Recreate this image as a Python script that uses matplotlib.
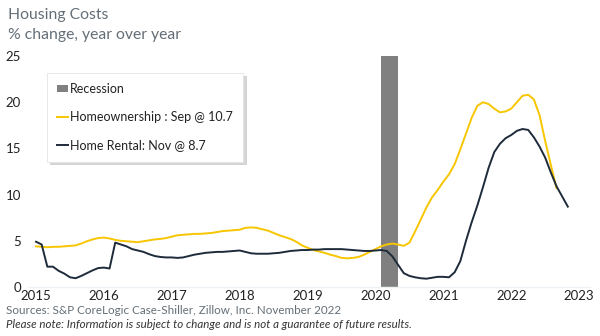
import numpy as np
import matplotlib
matplotlib.use("Agg")
import matplotlib.pyplot as plt
from matplotlib.patches import Patch
from matplotlib.lines import Line2D

plt.rcParams["font.family"] = ["Lato", "DejaVu Sans"]

# Monthly year-over-year % change, starting January 2015
start_year = 2015
homeownership = [
    4.4, 4.35, 4.3, 4.35, 4.35, 4.4, 4.45, 4.5, 4.7, 4.95, 5.15, 5.3,      # 2015
    5.35, 5.25, 5.1, 5.0, 4.95, 4.9, 4.85, 4.95, 5.05, 5.15, 5.2, 5.3,     # 2016
    5.45, 5.6, 5.65, 5.7, 5.75, 5.75, 5.8, 5.85, 5.95, 6.05, 6.1, 6.15,    # 2017
    6.2, 6.4, 6.45, 6.4, 6.25, 6.1, 5.85, 5.6, 5.4, 5.2, 4.9, 4.5,         # 2018
    4.25, 4.0, 3.85, 3.7, 3.5, 3.35, 3.15, 3.1, 3.15, 3.25, 3.5, 3.8,      # 2019
    4.1, 4.4, 4.6, 4.7, 4.6, 4.45, 4.8, 6.0, 7.3, 8.6, 9.7, 10.5,          # 2020
    11.4, 12.2, 13.3, 14.9, 16.6, 18.3, 19.6, 20.0, 19.8, 19.3, 18.9, 19.0,  # 2021
    19.3, 20.0, 20.7, 20.8, 20.3, 18.6, 15.8, 13.2, 10.7,                  # 2022 (to Sep)
]
home_rental = [
    4.9, 4.6, 2.2, 2.2, 1.75, 1.45, 1.05, 0.95, 1.2, 1.5, 1.8, 2.05,       # 2015
    2.1, 2.0, 4.8, 4.6, 4.4, 4.1, 3.95, 3.8, 3.55, 3.35, 3.25, 3.2,        # 2016
    3.2, 3.15, 3.2, 3.35, 3.5, 3.6, 3.7, 3.75, 3.8, 3.8, 3.85, 3.9,        # 2017
    3.95, 3.8, 3.65, 3.6, 3.6, 3.6, 3.65, 3.7, 3.8, 3.9, 3.95, 4.0,        # 2018
    4.0, 4.05, 4.05, 4.1, 4.1, 4.1, 4.1, 4.05, 4.0, 3.95, 3.9, 3.9,        # 2019
    3.95, 4.0, 3.9, 3.3, 2.4, 1.5, 1.2, 1.05, 0.95, 0.9, 1.0, 1.1,         # 2020
    1.1, 1.05, 1.6, 2.8, 5.0, 7.0, 8.8, 10.8, 12.9, 14.6, 15.5, 16.1,      # 2021
    16.45, 16.9, 17.1, 17.0, 16.2, 15.2, 14.0, 12.4, 10.9, 9.8, 8.7,       # 2022 (to Nov)
]
recession = (2020 + 1 / 12, 2020 + 4 / 12)   # Feb - Apr 2020
x_ticks = list(range(2015, 2024))
y_ticks = [0, 5, 10, 15, 20, 25]

labels = {
    "recession": "Recession",
    "own": "Homeownership : Sep @ 10.7",
    "rent": "Home Rental: Nov @ 8.7",
}

GOLD = "#F7C600"
NAVY = "#1E2B3A"
GREY_BAR = "#808080"
TEXT = "#222222"
MUTED = "#646E77"

x_own = start_year + np.arange(len(homeownership)) / 12
x_rent = start_year + np.arange(len(home_rental)) / 12

fig = plt.figure(figsize=(6.0, 3.36), dpi=100)
W, H = 600, 336
left_px, right_px, bottom_px, top_px = 28, 590, 287, 56
ax = fig.add_axes([left_px / W, (H - bottom_px) / H,
                   (right_px - left_px) / W, (bottom_px - top_px) / H])

ax.axvspan(recession[0], recession[1], color=GREY_BAR, lw=0, zorder=1)
ax.plot(x_own, homeownership, color=GOLD, lw=1.4, zorder=3)
ax.plot(x_rent, home_rental, color=NAVY, lw=1.4, zorder=4)

ax.set_xlim(2014.882, 2023.16)
ax.set_ylim(0, 25)
ax.set_xticks(x_ticks)
ax.set_yticks(y_ticks)
ax.tick_params(axis="both", length=0, labelsize=9.5, labelcolor=TEXT)
ax.tick_params(axis="x", pad=2)
ax.tick_params(axis="y", pad=5)
for s in ("top", "right", "left"):
    ax.spines[s].set_visible(False)
ax.spines["bottom"].set_color("#EEF2F5")
ax.spines["bottom"].set_linewidth(1.0)

handles = [
    Patch(facecolor=GREY_BAR, edgecolor="none"),
    Line2D([], [], color=GOLD, lw=1.4),
    Line2D([], [], color=NAVY, lw=1.4),
]
leg = ax.legend(handles, [labels["recession"], labels["own"], labels["rent"]],
                loc="upper left",
                bbox_to_anchor=((47 - left_px) / (right_px - left_px),
                                1 - (73 - top_px) / (bottom_px - top_px)),
                fontsize=9, frameon=True, fancybox=False,
                shadow={"ox": 2, "oy": -2, "color": "#BBBBBB", "alpha": 0.6},
                handlelength=0.85, handleheight=0.55, handletextpad=0.2,
                labelspacing=1.3, borderpad=0.8, borderaxespad=0)
leg.get_frame().set_edgecolor("#E4E4E4")
leg.get_frame().set_linewidth(0.6)
for t in leg.get_texts():
    t.set_color(TEXT)

fig.text(8 / W, 1 - 15 / H, "Housing Costs", fontsize=11.3, color=MUTED,
         va="center", ha="left")
fig.text(8 / W, 1 - 35 / H, "% change, year over year", fontsize=11.3,
         color=MUTED, va="center", ha="left")
fig.text(6 / W, 1 - 310 / H,
         "Sources: S&P CoreLogic Case-Shiller, Zillow, Inc. November 2022",
         fontsize=8.4, color=MUTED, va="center", ha="left")
fig.text(6 / W, 1 - 325 / H,
         "Please note: Information is subject to change and is not a guarantee of future results.",
         fontsize=8.3, color="#333333", style="italic", va="center", ha="left")

fig.savefig("out.png", dpi=100, facecolor="white")
